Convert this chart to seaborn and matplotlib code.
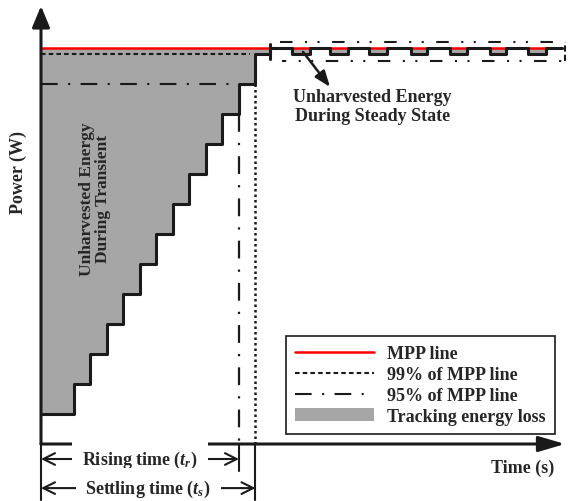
import matplotlib
matplotlib.use('Agg')
import matplotlib.pyplot as plt
import seaborn as sns

sns.set_theme(style='white')
plt.rcParams['font.family'] = ['Liberation Serif', 'DejaVu Serif']
plt.rcParams['font.weight'] = 'bold'
plt.rcParams['mathtext.fontset'] = 'custom'
plt.rcParams['mathtext.it'] = 'Liberation Serif:italic:bold'
plt.rcParams['mathtext.rm'] = 'Liberation Serif:bold'
plt.rcParams['mathtext.bf'] = 'Liberation Serif:bold'

# ---------------- data (schematic units) ----------------
step_times = [0, 2, 3, 4, 5, 6, 7, 8, 9, 10, 11, 12, 13]
step_levels = [1, 2, 3, 4, 5, 6, 7, 8, 9, 10, 11, 12, 13]
t_reach_mpp = 13.9
dip_start = [15.2, 17.5, 19.9, 22.4, 24.8, 27.2, 29.5]
dip_end = [16.3, 18.6, 21.0, 23.4, 25.8, 28.2, 30.6]
t_end = 31.6
mpp = 13.2
p99 = 13.0
p95 = 12.0
band_hi = 13.4
band_lo = 12.77
t_rise = 12
t_settle = 13
legend_labels = ['MPP line', '99% of MPP line', '95% of MPP line', 'Tracking energy loss']

# waveform assembled from the lists above
wave_t = step_times + [t_reach_mpp]
wave_p = step_levels + [mpp]
for s, e in zip(dip_start, dip_end):
    wave_t += [s, e]
    wave_p += [p99, mpp]
wave_t += [t_end]
wave_p += [mpp]

GRAY = '#A6A6A6'

fig = plt.figure(figsize=(5.71, 5.02), dpi=100)
ax = fig.add_axes([0, 0, 1, 1])
ax.set_xlim(-41 / 16.5, 530 / 16.5)
ax.set_ylim(-57 / 30, 445 / 30)
ax.axis('off')

# tracking energy loss
fill = ax.fill_between(wave_t, wave_p, mpp, step='post', color=GRAY, lw=0, zorder=1)

# reference lines
l99, = ax.plot([0, 12.67], [p99, p99], color='k', lw=1.5, ls=(0, (2.2, 1.5)), zorder=2)
l95, = ax.plot([0, 11.45], [p95, p95], color='k', lw=1.5, ls=(0, (8, 5, 1, 5)), zorder=2)
lmpp, = ax.plot([0, t_end], [mpp, mpp], color='red', lw=1.8, zorder=3)

# tracking waveform
sns.lineplot(x=wave_t, y=wave_p, drawstyle='steps-post', color='k', lw=2.2,
             ax=ax, zorder=4, sort=False, estimator=None)

# steady state band
band_x0 = 14.5
ax.plot([band_x0, 31.75], [band_hi, band_hi], color='k', lw=1.5,
        ls=(0, (6, 6, 1, 5, 1, 6)), zorder=4)
ax.plot([band_x0 + 0.1, 31.75], [band_lo, band_lo], color='k', lw=1.5,
        ls=(4, (6, 6, 1, 5, 1, 6)), zorder=4)
ax.plot([31.75, 31.75], [band_lo, band_hi], color='k', lw=1.5,
        ls=(0, (3, 1.5)), zorder=4)
ax.plot([t_reach_mpp, t_reach_mpp], [12.83, 13.35], color='k', lw=2.2, zorder=4)

# rising / settling verticals
ax.plot([t_rise, t_rise], [11, 0], color='k', lw=1.6, ls=(0, (8, 5, 1, 5)), zorder=2)
ax.plot([t_settle, t_settle], [12, 0], color='k', lw=1.8, ls=(0, (1, 1.2)), zorder=2)
ax.plot([t_rise, t_rise], [0, -0.9], color='k', lw=1.5, zorder=2)
ax.plot([t_settle, t_settle], [0, -1.85], color='k', lw=1.5, zorder=2)
ax.plot([0, 0], [0, -1.85], color='k', lw=1.5, zorder=2)

# axes with arrows
ax.annotate('', xy=(0, 14.6), xytext=(0, 0),
            arrowprops=dict(arrowstyle='-|>,head_length=1.3,head_width=0.54',
                            mutation_scale=10, lw=2.2, color='k',
                            shrinkA=0, shrinkB=0), zorder=5)
ax.annotate('', xy=(31.76, 0), xytext=(0, 0),
            arrowprops=dict(arrowstyle='-|>,head_length=1.6,head_width=0.47',
                            mutation_scale=10, lw=2.2, color='k',
                            shrinkA=0, shrinkB=0), zorder=5)

ax.text(-1.39, 9.1, 'Power (W)', rotation=90, ha='center', va='center',
        fontsize=13, fontweight='bold')
ax.text(29.2, -0.77, 'Time (s)', ha='center', va='center',
        fontsize=13, fontweight='bold')

# time spans
for yv, tt, lab in [(-0.5, t_rise, 'Rising time ($t_r$)'),
                    (-1.47, t_settle, 'Settling time ($t_s$)')]:
    ax.annotate('', xy=(0, yv), xytext=(tt, yv),
                arrowprops=dict(arrowstyle='<->,head_length=0.6,head_width=0.3',
                                mutation_scale=14, lw=1.5, color='k',
                                shrinkA=0, shrinkB=0), zorder=3)
    ax.text(tt / 2, yv, lab, ha='center', va='center', fontsize=13,
            fontweight='bold', zorder=6,
            bbox=dict(boxstyle='square,pad=0.55', fc='white', ec='none'))

# annotations
ax.text(3.27, 8.2, 'Unharvested Energy\nDuring Transient', rotation=90,
        ha='center', va='center', multialignment='center', fontsize=12.5,
        fontweight='bold', linespacing=1.0, zorder=6)
ax.annotate('', xy=(17.52, 11.9), xytext=(15.88, 13.07),
            arrowprops=dict(arrowstyle='-|>,head_length=0.8,head_width=0.3',
                            mutation_scale=12, lw=1.8, color='k',
                            shrinkA=0, shrinkB=0), zorder=6)
ax.text(20.1, 11.27, 'Unharvested Energy\nDuring Steady State', ha='center',
        va='center', multialignment='center', fontsize=13, fontweight='bold',
        linespacing=1.1, zorder=6)

leg = ax.legend([lmpp, l99, l95, fill], legend_labels,
                loc='upper left', bbox_to_anchor=(286 / 571, 1 - 337 / 502),
                prop=dict(family='Liberation Serif', weight='bold', size=13),
                handlelength=4.4, handletextpad=0.72, borderpad=0.5,
                labelspacing=0.22, fancybox=False, framealpha=1,
                edgecolor='k', borderaxespad=0)
leg.get_frame().set_linewidth(1.2)
leg.set_zorder(7)

fig.savefig('out.png', dpi=100)
